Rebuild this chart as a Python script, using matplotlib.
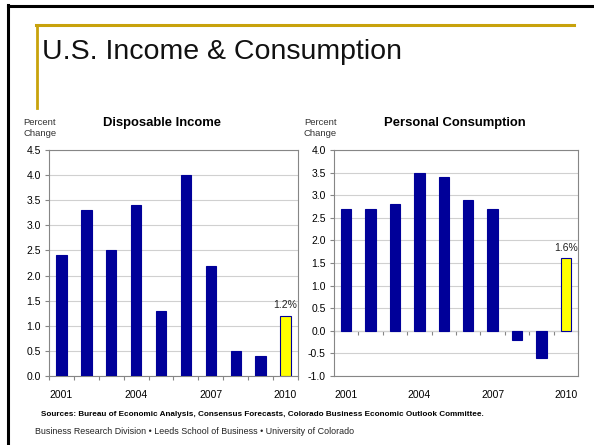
import matplotlib
matplotlib.use("Agg")
import matplotlib.pyplot as plt
from matplotlib.lines import Line2D
import numpy as np

plt.rcParams['font.family'] = ['Liberation Sans', 'DejaVu Sans']

anos = [2001, 2002, 2003, 2004, 2005, 2006, 2007, 2008, 2009, 2010]
rotulos_x = ['2001', '2004', '2007', '2010']
renda = [2.4, 3.3, 2.5, 3.4, 1.3, 4.0, 2.2, 0.5, 0.4, 1.2]
consumo = [2.7, 2.7, 2.8, 3.5, 3.4, 2.9, 2.7, -0.2, -0.6, 1.6]

AZUL = '#000099'
AMARELO = '#FFFF00'
OURO = '#C8A20C'
MOLDURA = '#868686'
GRADE = '#D0D0D0'

W, H = 594, 445
fig = plt.figure(figsize=(W / 100, H / 100), dpi=100)


def caixa(x0, y0, x1, y1):
    """pixel box (origem no topo) -> fracao da figura"""
    return [x0 / W, 1 - y1 / H, (x1 - x0) / W, (y1 - y0) / H]


def px(x, y):
    return x / W, 1 - y / H


# moldura preta do slide e linha dourada
fig.add_artist(Line2D([8 / W, 8 / W], [0, 1 - 5 / H], color='black', lw=2.2, transform=fig.transFigure))
fig.add_artist(Line2D([8 / W, 1], [1 - 6 / H, 1 - 6 / H], color='black', lw=2.2, transform=fig.transFigure))
fig.add_artist(Line2D([36 / W, 574 / W], [1 - 25 / H, 1 - 25 / H], color=OURO, lw=2.2, transform=fig.transFigure))
fig.add_artist(Line2D([37 / W, 37 / W], [1 - 25 / H, 1 - 108 / H], color=OURO, lw=2.0, transform=fig.transFigure))

fig.text(*px(42, 52), 'U.S. Income & Consumption', fontsize=20.5, va='center', ha='left', color='#111111')


def grafico(ax, valores, ymin, ymax):
    x = np.arange(len(anos))
    cores = [AZUL] * (len(valores) - 1) + [AMARELO]
    ax.bar(x, valores, width=0.42, color=cores, edgecolor=AZUL, linewidth=0.8, zorder=3)
    ax.set_xlim(-0.5, len(anos) - 0.5)
    ax.set_ylim(ymin, ymax)
    ax.set_yticks(np.arange(ymin, ymax + 0.01, 0.5))
    ax.set_yticklabels([f'{v:.1f}' for v in np.arange(ymin, ymax + 0.01, 0.5)], fontsize=7.5)
    ax.yaxis.grid(True, color=GRADE, lw=0.8, zorder=0)
    for s in ax.spines.values():
        s.set_color(MOLDURA)
        s.set_linewidth(0.8)
    ax.tick_params(axis='y', length=3, width=0.8, color=MOLDURA, pad=3)
    ax.set_xticks([0, 3, 6, 9])
    ax.set_xticklabels(rotulos_x, fontsize=7.5)
    ax.set_xticks(np.arange(-0.5, len(anos)), minor=True)
    ax.tick_params(axis='x', which='major', length=0, pad=10)
    ax.tick_params(axis='x', which='minor', length=3, width=0.8, color=MOLDURA)
    ax.set_facecolor('white')
    ult = len(valores) - 1
    ax.text(ult, valores[ult] + (ymax - ymin) * 0.025, f'{valores[ult]:.1f}%', ha='center', va='bottom',
            fontsize=7.5, color='#222222')


ax1 = fig.add_axes(caixa(49, 150, 298, 376))
grafico(ax1, renda, 0.0, 4.5)

ax2 = fig.add_axes(caixa(334, 150, 578, 376))
grafico(ax2, consumo, -1.0, 4.0)
ax2.tick_params(axis='x', which='minor', length=0)
eixo0 = ax2.secondary_xaxis((0 - (-1.0)) / 5.0)
eixo0.set_xticks([])
eixo0.set_xticks(np.arange(-0.5, len(anos)), minor=True)
eixo0.tick_params(axis='x', which='minor', length=3, width=0.8, color=MOLDURA)
eixo0.spines['bottom'].set_color(MOLDURA)
eixo0.spines['bottom'].set_linewidth(0.8)

# titulos e rotulos de eixo
fig.text(*px(162, 123), 'Disposable Income', fontsize=9.4, fontweight='bold', ha='center', va='center')
fig.text(*px(455, 123), 'Personal Consumption', fontsize=9.4, fontweight='bold', ha='center', va='center')
fig.text(*px(23, 128), 'Percent\nChange', fontsize=6.8, color='#333333', ha='left', va='center', linespacing=1.4)
fig.text(*px(304, 128), 'Percent\nChange', fontsize=6.8, color='#333333', ha='left', va='center', linespacing=1.4)

fig.text(*px(41, 415), 'Sources: Bureau of Economic Analysis, Consensus Forecasts, Colorado Business Economic Outlook Committee.',
         fontsize=5.9, fontweight='bold', ha='left', va='center')
fig.text(*px(35, 432), 'Business Research Division \u2022 Leeds School of Business \u2022 University of Colorado',
         fontsize=6.4, ha='left', va='center', color='#222222')

fig.savefig('out.png', dpi=100, facecolor='white')
